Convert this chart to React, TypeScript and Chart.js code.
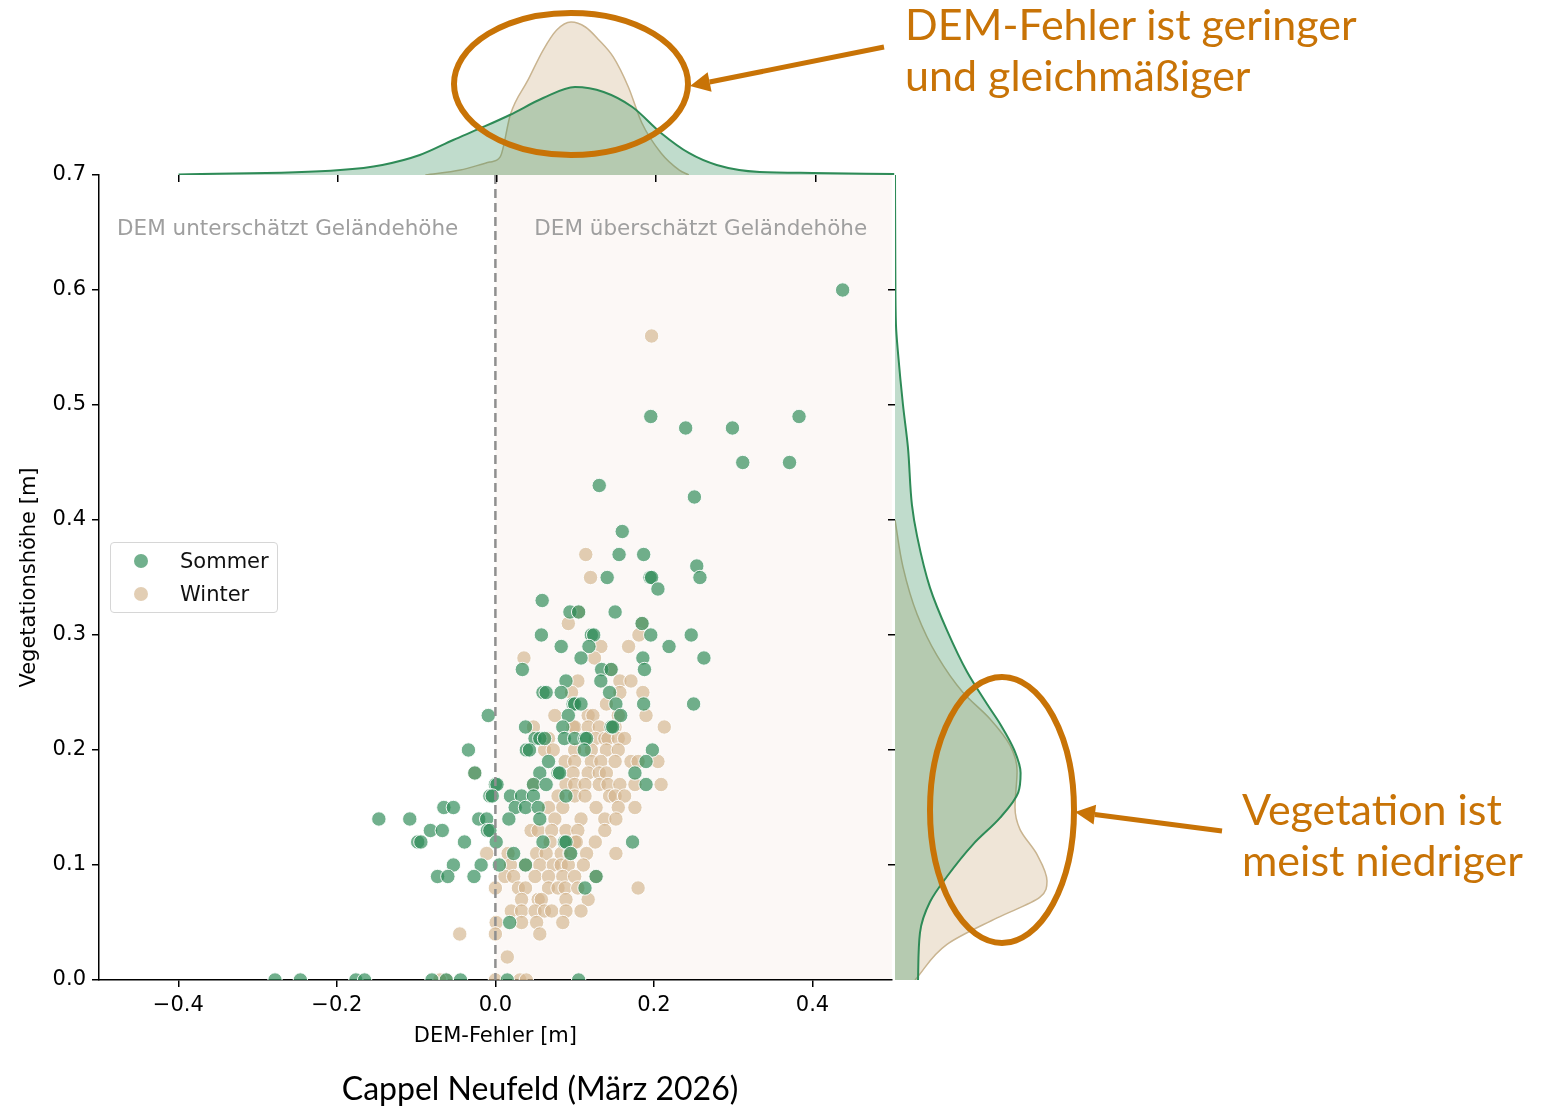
import React, { useEffect, useRef } from 'react';
import { Chart, registerables } from 'chart.js';

Chart.register(...registerables);

// ---------- data ----------
const seriesNames = ['Sommer', 'Winter'];
const xTickValues = [-0.4, -0.2, 0, 0.2, 0.4];
const yTickValues = [0, 0.1, 0.2, 0.3, 0.4, 0.5, 0.6, 0.7];
const marginalYTicks = [0.1, 0.2, 0.3, 0.4, 0.5, 0.6];
const regionLabels = ['DEM unterschätzt Geländehöhe', 'DEM überschätzt Geländehöhe'];
const axisTitles = { x: 'DEM-Fehler [m]', y: 'Vegetationshöhe [m]' };
const annotationTop = ['DEM-Fehler ist geringer', 'und gleichmäßiger'];
const annotationRight = ['Vegetation ist', 'meist niedriger'];
const caption = 'Cappel Neufeld (März 2026)';

// DEM-Fehler [m], Vegetationshöhe [m]
const sommerPoints: [number, number][] = [
  [0.438, 0.6], [0.196, 0.49], [0.24, 0.48], [0.299, 0.48], [0.383, 0.49], [0.312, 0.45], [0.371, 0.45],
  [0.131, 0.43], [0.251, 0.42], [0.16, 0.39], [0.156, 0.37], [0.187, 0.37], [0.254, 0.36], [0.141, 0.35],
  [0.195, 0.35], [0.197, 0.35], [0.258, 0.35], [0.205, 0.34], [0.059, 0.33], [0.094, 0.32], [0.105, 0.32],
  [0.151, 0.32], [0.185, 0.31], [0.058, 0.3], [0.121, 0.3], [0.124, 0.3], [0.196, 0.3], [0.247, 0.3],
  [0.083, 0.29], [0.118, 0.29], [0.219, 0.29], [0.108, 0.28], [0.186, 0.28], [0.263, 0.28], [0.034, 0.27],
  [0.134, 0.27], [0.146, 0.27], [0.188, 0.27], [0.089, 0.26], [0.133, 0.26],
  [0.06, 0.25], [0.064, 0.25], [0.083, 0.25], [0.144, 0.25],
  [0.098, 0.24], [0.1, 0.24], [0.108, 0.24], [0.152, 0.24], [0.187, 0.24], [0.25, 0.24],
  [-0.009, 0.23], [0.092, 0.23], [0.158, 0.23],
  [0.038, 0.22], [0.085, 0.22], [0.146, 0.22], [0.148, 0.22],
  [0.05, 0.21], [0.056, 0.21], [0.062, 0.21], [0.087, 0.21], [0.1, 0.21], [0.113, 0.21], [0.115, 0.21],
  [0.039, 0.2], [0.043, 0.2], [0.112, 0.2], [0.198, 0.2], [-0.034, 0.2],
  [0.067, 0.19], [0.19, 0.19],
  [0.056, 0.18], [0.079, 0.18], [0.081, 0.18], [0.176, 0.18], [-0.026, 0.18],
  [0.0, 0.17], [0.002, 0.17], [0.048, 0.17], [0.064, 0.17], [0.19, 0.17],
  [-0.007, 0.16], [-0.004, 0.16], [0.019, 0.16], [0.033, 0.16], [0.048, 0.16], [0.089, 0.16],
  [0.025, 0.15], [0.038, 0.15], [0.054, 0.15], [-0.065, 0.15], [-0.053, 0.15],
  [-0.147, 0.14], [-0.108, 0.14], [-0.021, 0.14], [-0.011, 0.14], [0.017, 0.14], [0.056, 0.14],
  [-0.082, 0.13], [-0.067, 0.13], [-0.01, 0.13], [-0.007, 0.13],
  [-0.098, 0.12], [-0.094, 0.12], [-0.039, 0.12], [0.001, 0.12], [0.06, 0.12], [0.087, 0.12], [0.089, 0.12], [0.173, 0.12],
  [0.023, 0.11], [0.095, 0.11],
  [-0.053, 0.1], [-0.018, 0.1], [0.005, 0.1], [0.038, 0.1],
  [-0.073, 0.09], [-0.06, 0.09], [-0.027, 0.09], [0.127, 0.09],
  [0.113, 0.08], [0.018, 0.05],
  [-0.278, 0], [-0.246, 0], [-0.176, 0], [-0.165, 0], [-0.08, 0], [-0.062, 0], [-0.044, 0], [0.015, 0], [0.105, 0],
];

const winterPoints: [number, number][] = [
  [0.197, 0.56], [0.114, 0.37], [0.12, 0.35], [0.105, 0.32], [0.092, 0.31], [0.185, 0.31], [0.181, 0.3],
  [0.133, 0.29], [0.168, 0.29], [0.036, 0.28], [0.125, 0.28], [0.146, 0.27],
  [0.104, 0.26], [0.157, 0.26], [0.171, 0.26],
  [0.096, 0.25], [0.157, 0.25], [0.186, 0.25], [0.14, 0.24],
  [0.075, 0.23], [0.117, 0.23], [0.123, 0.23], [0.155, 0.23], [0.19, 0.23],
  [0.048, 0.22], [0.098, 0.22], [0.1, 0.22], [0.117, 0.22], [0.131, 0.22], [0.151, 0.22], [0.213, 0.22],
  [0.067, 0.21], [0.126, 0.21], [0.138, 0.21], [0.142, 0.21], [0.155, 0.21], [0.163, 0.21],
  [0.062, 0.2], [0.073, 0.2], [0.1, 0.2], [0.121, 0.2], [0.14, 0.2], [0.155, 0.2],
  [0.088, 0.19], [0.1, 0.19], [0.121, 0.19], [0.133, 0.19], [0.151, 0.19], [0.171, 0.19], [0.18, 0.19], [0.205, 0.19],
  [0.098, 0.18], [0.117, 0.18], [0.131, 0.18], [0.14, 0.18], [-0.026, 0.18],
  [0.048, 0.17], [0.089, 0.17], [0.1, 0.17], [0.113, 0.17], [0.131, 0.17], [0.142, 0.17], [0.157, 0.17], [0.176, 0.17], [0.209, 0.17],
  [0.079, 0.16], [0.1, 0.16], [0.113, 0.16], [0.144, 0.16], [0.151, 0.16], [0.163, 0.16],
  [0.067, 0.15], [0.085, 0.15], [0.127, 0.15], [0.155, 0.15], [0.176, 0.15],
  [0.075, 0.14], [0.108, 0.14], [0.138, 0.14], [0.152, 0.14],
  [0.045, 0.13], [0.054, 0.13], [0.071, 0.13], [0.089, 0.13], [0.104, 0.13], [0.138, 0.13],
  [0.069, 0.12], [0.1, 0.12], [0.102, 0.12], [0.126, 0.12],
  [-0.011, 0.11], [0.016, 0.11], [0.052, 0.11], [0.064, 0.11], [0.083, 0.11], [0.094, 0.11], [0.115, 0.11], [0.152, 0.11],
  [0.019, 0.1], [0.038, 0.1], [0.056, 0.1], [0.073, 0.1], [0.083, 0.1], [0.092, 0.1], [0.111, 0.1],
  [0.012, 0.09], [0.023, 0.09], [0.05, 0.09], [0.067, 0.09], [0.085, 0.09], [0.1, 0.09], [0.127, 0.09],
  [0.0, 0.08], [0.029, 0.08], [0.038, 0.08], [0.067, 0.08], [0.079, 0.08], [0.088, 0.08], [0.104, 0.08], [0.18, 0.08],
  [0.033, 0.07], [0.054, 0.07], [0.058, 0.07], [0.089, 0.07], [0.117, 0.07],
  [0.02, 0.06], [0.033, 0.06], [0.05, 0.06], [0.062, 0.06], [0.071, 0.06], [0.089, 0.06], [0.108, 0.06],
  [0.001, 0.05], [0.033, 0.05], [0.052, 0.05], [0.085, 0.05],
  [0.0, 0.04], [0.056, 0.04], [-0.045, 0.04], [0.015, 0.02],
  [0.0, 0], [0.031, 0], [0.039, 0], [-0.062, 0], [-0.07, 0],
];

// marginal density estimates
const topSommerX = [-0.4, -0.197, -0.144, -0.097, -0.055, -0.02, 0.016, 0.058, 0.098, 0.134, 0.17, 0.206, 0.241, 0.276, 0.33, 0.396, 0.499];
const topSommerD = [0.03, 0.31, 0.63, 1.25, 2.19, 2.94, 3.75, 4.81, 5.5, 5.19, 4.25, 2.63, 1.38, 0.63, 0.19, 0.13, 0.06];
const topWinterX = [-0.09, -0.046, -0.009, 0.004, 0.017, 0.039, 0.058, 0.075, 0.093, 0.111, 0.128, 0.146, 0.165, 0.182, 0.206, 0.229, 0.241];
const topWinterD = [0, 0.31, 0.81, 1.13, 3.81, 5.94, 7.81, 9.06, 9.56, 9.25, 8.44, 7.38, 5.5, 3.25, 1.38, 0.31, 0];

const rightSommerY = [0.0, 0.041, 0.068, 0.09, 0.118, 0.141, 0.163, 0.18, 0.2, 0.222, 0.24, 0.268, 0.304, 0.341, 0.386, 0.413, 0.463, 0.5, 0.545, 0.57, 0.62, 0.7];
const rightSommerD = [1.44, 1.56, 2.19, 3.25, 4.88, 6.56, 7.7, 7.85, 7.45, 6.6, 5.75, 4.5, 3.25, 2.19, 1.38, 1.06, 0.81, 0.5, 0.19, 0.06, 0.02, 0];
const rightWinterY = [0.0, 0.031, 0.054, 0.072, 0.086, 0.109, 0.131, 0.15, 0.182, 0.204, 0.227, 0.25, 0.282, 0.318, 0.359, 0.4];
const rightWinterD = [1.25, 3.25, 6.38, 9.06, 9.5, 8.88, 7.81, 7.5, 7.63, 7.19, 5.94, 4.25, 2.63, 1.38, 0.5, 0];

// ---------- styles ----------
const FONT = "'DejaVu Sans', sans-serif";
const LATO = "Lato, 'Open Sans', sans-serif";
const ORANGE = '#c87306';
const GREEN = '#2e8b57';
const GREEN_PT = 'rgba(46,139,87,0.68)';
const TAN_PT = 'rgba(210,180,140,0.65)';
const GREEN_FILL = 'rgba(46,139,87,0.3)';
const TAN_FILL = 'rgba(210,180,140,0.35)';
const TAN_LINE = '#c9b490';

Chart.defaults.font.family = FONT;
Chart.defaults.color = '#000';

const fmtX = (v: number) => (Math.abs(v) < 1e-9 ? '0.0' : v < 0 ? '\u2212' + Math.abs(v).toFixed(1) : v.toFixed(1));

const mainDecor = {
  id: 'mainDecor',
  beforeDraw(chart: any) {
    const { ctx, chartArea, scales } = chart;
    const x0 = scales.x.getPixelForValue(0);
    ctx.save();
    ctx.fillStyle = '#fcf8f6';
    ctx.fillRect(x0, chartArea.top, chartArea.right - x0, chartArea.bottom - chartArea.top);
    ctx.fillStyle = '#9f9f9f';
    ctx.font = `21.5px ${FONT}`;
    ctx.textAlign = 'center';
    ctx.textBaseline = 'middle';
    const ly = scales.y.getPixelForValue(0.653);
    ctx.fillText(regionLabels[0], scales.x.getPixelForValue(-0.262), ly);
    ctx.fillText(regionLabels[1], scales.x.getPixelForValue(0.259), ly);
    ctx.restore();
  },
  afterDatasetsDraw(chart: any) {
    const { ctx, chartArea, scales } = chart;
    const x0 = scales.x.getPixelForValue(0);
    ctx.save();
    ctx.strokeStyle = '#8f8f8f';
    ctx.lineWidth = 2.5;
    ctx.setLineDash([9, 5]);
    ctx.beginPath();
    ctx.moveTo(x0, chartArea.top);
    ctx.lineTo(x0, chartArea.bottom);
    ctx.stroke();
    ctx.restore();
  },
};

function useChart(ref: React.RefObject<HTMLCanvasElement>, make: () => any) {
  useEffect(() => {
    if (!ref.current) return;
    const chart = new Chart(ref.current, make());
    return () => chart.destroy();
  }, []);
}

const tickGrid = { drawOnChartArea: false, drawTicks: true, tickLength: 7, color: '#000', lineWidth: 1.5 };

function MainChart() {
  const ref = useRef<HTMLCanvasElement>(null);
  useChart(ref, () => ({
    type: 'scatter',
    data: {
      datasets: [
        {
          label: seriesNames[0],
          data: sommerPoints.map(([x, y]) => ({ x, y })),
          backgroundColor: GREEN_PT,
          borderColor: 'rgba(255,255,255,0.9)',
          borderWidth: 1,
          pointRadius: 7.2,
          clip: 0,
        },
        {
          label: seriesNames[1],
          data: winterPoints.map(([x, y]) => ({ x, y })),
          backgroundColor: TAN_PT,
          borderColor: 'rgba(255,255,255,0.9)',
          borderWidth: 1,
          pointRadius: 7.2,
          clip: 0,
        },
      ],
    },
    options: {
      animation: false,
      responsive: false,
      maintainAspectRatio: false,
      layout: { padding: { left: 0, top: 175, right: 5, bottom: 0 } },
      plugins: { legend: { display: false }, tooltip: { enabled: false } },
      scales: {
        x: {
          type: 'linear',
          min: -0.5,
          max: 0.5,
          afterBuildTicks: (s: any) => { s.ticks = xTickValues.map((value) => ({ value })); },
          afterFit: (s: any) => { s.height = 90; },
          ticks: { callback: (v: any) => fmtX(Number(v)), font: { size: 21, family: FONT }, color: '#000', padding: 6, maxRotation: 0, autoSkip: false },
          grid: tickGrid,
          border: { display: true, color: '#000', width: 1.5 },
          title: { display: true, text: axisTitles.x, font: { size: 21, family: FONT }, color: '#000', padding: { top: 0, bottom: 21 } },
        },
        y: {
          type: 'linear',
          min: 0,
          max: 0.7,
          afterBuildTicks: (s: any) => { s.ticks = yTickValues.map((value) => ({ value })); },
          afterFit: (s: any) => { s.width = 99; },
          ticks: { callback: (v: any) => Number(v).toFixed(1), font: { size: 21, family: FONT }, color: '#000', padding: 6, autoSkip: false },
          grid: tickGrid,
          border: { display: true, color: '#000', width: 1.5 },
          title: { display: true, text: axisTitles.y, font: { size: 21, family: FONT }, color: '#000', padding: { top: 17, bottom: 0 } },
        },
      },
    },
    plugins: [mainDecor],
  }));
  return <canvas ref={ref} width={900} height={1070} style={{ position: 'absolute', left: 0, top: 0, width: 900, height: 1070 }} />;
}

function TopChart() {
  const ref = useRef<HTMLCanvasElement>(null);
  useChart(ref, () => ({
    type: 'line',
    data: {
      datasets: [
        {
          label: seriesNames[0],
          data: topSommerX.map((x, i) => ({ x, y: topSommerD[i] })),
          borderColor: GREEN,
          borderWidth: 2,
          backgroundColor: GREEN_FILL,
          fill: 'origin',
          pointRadius: 0,
          cubicInterpolationMode: 'monotone',
        },
        {
          label: seriesNames[1],
          data: topWinterX.map((x, i) => ({ x, y: topWinterD[i] })),
          borderColor: TAN_LINE,
          borderWidth: 1.5,
          backgroundColor: TAN_FILL,
          fill: 'origin',
          pointRadius: 0,
          cubicInterpolationMode: 'monotone',
        },
      ],
    },
    options: {
      animation: false,
      responsive: false,
      maintainAspectRatio: false,
      layout: { padding: 0 },
      plugins: { legend: { display: false }, tooltip: { enabled: false } },
      scales: {
        x: {
          type: 'linear',
          min: -0.5,
          max: 0.5,
          afterBuildTicks: (s: any) => { s.ticks = xTickValues.map((value) => ({ value })); },
          afterFit: (s: any) => { s.height = 10; },
          ticks: { display: false },
          grid: tickGrid,
          border: { display: false },
        },
        y: { type: 'linear', display: false, min: 0, max: 175 / 16 },
      },
    },
  }));
  return <canvas ref={ref} width={796} height={185} style={{ position: 'absolute', left: 99, top: 0, width: 796, height: 185 }} />;
}

function RightChart() {
  const ref = useRef<HTMLCanvasElement>(null);
  useChart(ref, () => ({
    type: 'line',
    data: {
      datasets: [
        {
          label: seriesNames[0],
          data: rightSommerY.map((y, i) => ({ x: rightSommerD[i], y })),
          borderColor: GREEN,
          borderWidth: 2,
          backgroundColor: GREEN_FILL,
          fill: 'origin',
          pointRadius: 0,
          cubicInterpolationMode: 'monotone',
        },
        {
          label: seriesNames[1],
          data: rightWinterY.map((y, i) => ({ x: rightWinterD[i], y })),
          borderColor: TAN_LINE,
          borderWidth: 1.5,
          backgroundColor: TAN_FILL,
          fill: 'origin',
          pointRadius: 0,
          cubicInterpolationMode: 'monotone',
        },
      ],
    },
    options: {
      indexAxis: 'y',
      animation: false,
      responsive: false,
      maintainAspectRatio: false,
      layout: { padding: { top: 10, bottom: 10, left: 0, right: 0 } },
      plugins: { legend: { display: false }, tooltip: { enabled: false } },
      scales: {
        x: { type: 'linear', display: false, min: 0, max: 190 / 16 },
        y: {
          type: 'linear',
          min: 0,
          max: 0.7,
          afterBuildTicks: (s: any) => { s.ticks = marginalYTicks.map((value) => ({ value })); },
          afterFit: (s: any) => { s.width = 10; },
          ticks: { display: false },
          grid: tickGrid,
          border: { display: false },
        },
      },
    },
  }));
  return <canvas ref={ref} width={200} height={825} style={{ position: 'absolute', left: 885, top: 165, width: 200, height: 825 }} />;
}

function arrowHead(tail: [number, number], tip: [number, number], len = 20, half = 10) {
  const dx = tip[0] - tail[0];
  const dy = tip[1] - tail[1];
  const d = Math.hypot(dx, dy);
  const ux = dx / d;
  const uy = dy / d;
  const bx = tip[0] - ux * len;
  const by = tip[1] - uy * len;
  const nx = -uy;
  const ny = ux;
  return {
    base: [bx, by] as [number, number],
    points: `${tip[0]},${tip[1]} ${bx + nx * half},${by + ny * half} ${bx - nx * half},${by - ny * half}`,
  };
}

function Annotations() {
  const a1Tail: [number, number] = [884, 47];
  const a1Tip: [number, number] = [690, 86];
  const a2Tail: [number, number] = [1222, 831];
  const a2Tip: [number, number] = [1075, 812];
  const h1 = arrowHead(a1Tail, a1Tip);
  const h2 = arrowHead(a2Tail, a2Tip);
  return (
    <svg width={1549} height={1107} style={{ position: 'absolute', left: 0, top: 0, pointerEvents: 'none' }}>
      <ellipse cx={571} cy={84} rx={117} ry={71} fill="none" stroke={ORANGE} strokeWidth={6} />
      <ellipse cx={1002} cy={810} rx={72} ry={133} fill="none" stroke={ORANGE} strokeWidth={6} />
      <line x1={a1Tail[0]} y1={a1Tail[1]} x2={h1.base[0]} y2={h1.base[1]} stroke={ORANGE} strokeWidth={5} />
      <polygon points={h1.points} fill={ORANGE} />
      <line x1={a2Tail[0]} y1={a2Tail[1]} x2={h2.base[0]} y2={h2.base[1]} stroke={ORANGE} strokeWidth={5} />
      <polygon points={h2.points} fill={ORANGE} />
    </svg>
  );
}

function Legend() {
  const items = [
    { label: seriesNames[0], color: GREEN_PT },
    { label: seriesNames[1], color: TAN_PT },
  ];
  return (
    <div
      style={{
        position: 'absolute',
        left: 110,
        top: 542,
        width: 168,
        height: 71,
        boxSizing: 'border-box',
        border: '1px solid #d6d6d6',
        borderRadius: 4,
        background: 'rgba(255,255,255,0.85)',
        fontFamily: FONT,
        fontSize: 21,
        color: '#111',
      }}
    >
      {items.map((it, i) => (
        <div key={it.label} style={{ position: 'absolute', left: 0, top: 4 + i * 33, height: 28, width: 166 }}>
          <span
            style={{
              position: 'absolute',
              left: 23,
              top: 7,
              width: 14,
              height: 14,
              borderRadius: 7,
              background: it.color,
            }}
          />
          <span style={{ position: 'absolute', left: 69, top: 0, lineHeight: '28px', whiteSpace: 'nowrap' }}>{it.label}</span>
        </div>
      ))}
    </div>
  );
}

function TextBlock({ lines, left, top }: { lines: string[]; left: number; top: number }) {
  return (
    <div
      style={{
        position: 'absolute',
        left,
        top,
        fontFamily: LATO,
        fontSize: 43,
        lineHeight: '51px',
        color: ORANGE,
        whiteSpace: 'nowrap',
      }}
    >
      {lines.map((l) => (
        <div key={l}>{l}</div>
      ))}
    </div>
  );
}

export default function App() {
  return (
    <div style={{ position: 'absolute', left: 0, top: 0, width: 1549, height: 1107, background: '#fff', overflow: 'hidden' }}>
      <MainChart />
      <TopChart />
      <RightChart />
      <Legend />
      <Annotations />
      <TextBlock lines={annotationTop} left={905} top={-2} />
      <TextBlock lines={annotationRight} left={1242} top={783} />
      <div
        style={{
          position: 'absolute',
          left: 540,
          top: 1069,
          transform: 'translateX(-50%)',
          fontFamily: LATO,
          fontSize: 32,
          lineHeight: '38px',
          color: '#000',
          whiteSpace: 'nowrap',
        }}
      >
        {caption}
      </div>
    </div>
  );
}
